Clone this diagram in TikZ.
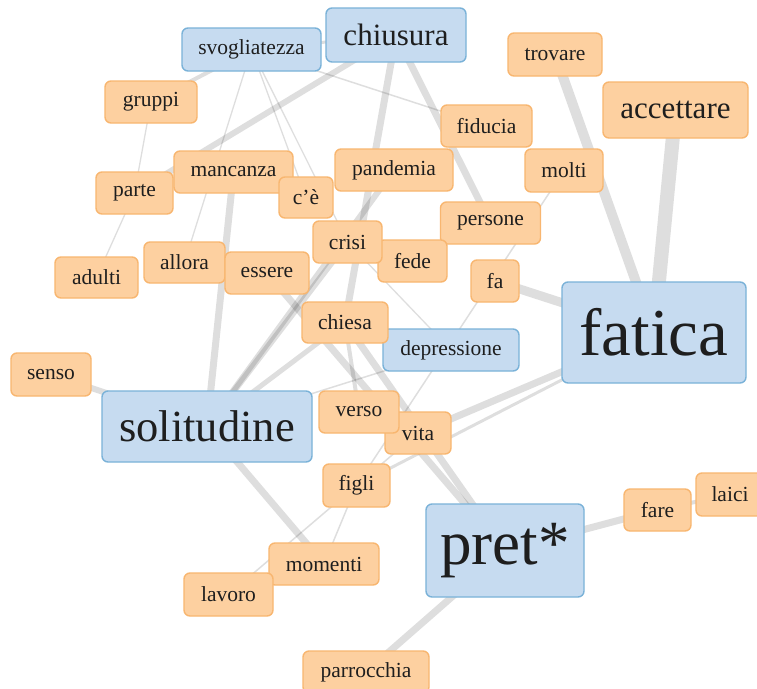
\documentclass[tikz,border=0pt]{standalone}
\usepackage{fontspec}
\setmainfont{Liberation Serif}
\definecolor{ofill}{RGB}{253,208,160}
\definecolor{odraw}{RGB}{248,182,112}
\definecolor{bfill}{RGB}{198,219,240}
\definecolor{bdraw}{RGB}{122,178,216}
\definecolor{txt}{RGB}{30,30,30}
\newcommand{\fsz}{\fontsize{21.5}{24}\selectfont}
\newcommand{\fmz}{\fontsize{31}{34}\selectfont}
\newcommand{\flz}{\fontsize{44.5}{48}\selectfont}
\newcommand{\fxz}{\fontsize{63}{66}\selectfont}
\newcommand{\fxxz}{\fontsize{67}{70}\selectfont}
\tikzset{
  box/.style={rounded corners=6pt, line width=1.4pt, inner sep=0pt, text=txt, align=center},
  ob/.style={box, fill=ofill, draw=odraw},
  bb/.style={box, fill=bfill, draw=bdraw},
  sz/.style 2 args={minimum width=#1pt, minimum height=#2pt},
  edge/.style={draw=black, draw opacity=0.13, line width=#1pt},
  edge/.default=1.3
}
\begin{document}
\begin{tikzpicture}[x=1pt,y=-1pt]
\useasboundingbox (0,0) rectangle (757,688);
\fill[white] (0,0) rectangle (757,688);
\path
  (251.5,49.5) coordinate (svo)
  (396,35) coordinate (chi)
  (555,54.5) coordinate (tro)
  (675.5,110) coordinate (acc)
  (151,102) coordinate (gru)
  (486.5,126) coordinate (fid)
  (233.5,172) coordinate (man)
  (394,170) coordinate (pan)
  (564,170.5) coordinate (mol)
  (134.5,193) coordinate (par)
  (306,197.5) coordinate (ce)
  (490.5,223) coordinate (per)
  (347.5,242) coordinate (cri)
  (412.5,261) coordinate (fed)
  (495,281) coordinate (fa)
  (96.5,277.5) coordinate (adu)
  (184.5,262.5) coordinate (all)
  (267,273) coordinate (ess)
  (654,332.5) coordinate (fat)
  (345,322.5) coordinate (chs)
  (451,350) coordinate (dep)
  (51,374.5) coordinate (sen)
  (207,426.5) coordinate (sol)
  (359,412) coordinate (ver)
  (418,433) coordinate (vit)
  (356.5,485.5) coordinate (fig)
  (657.5,510) coordinate (far)
  (730,494.5) coordinate (lai)
  (505,550.5) coordinate (pre)
  (324,564) coordinate (mom)
  (228.5,594.5) coordinate (lav)
  (366,672) coordinate (prr);
% connectors
\draw[edge=3] (svo) -- (chi);
\draw[edge=4] (svo) -- (gru);
\draw[edge=6] (chi) -- (par);
\draw[edge] (gru) -- (par);
\draw[edge] (par) -- (adu);
\draw[edge] (svo) -- (all);
\draw[edge] (svo) -- (ce);
\draw[edge] (svo) -- (cri);
\draw[edge=1.5] (svo) -- (fid);
\draw[edge=7] (chi) -- (per);
\draw[edge=7] (chi) -- (chs);
\draw[edge=10] (tro) -- (fat);
\draw[edge=14] (acc) -- (fat);
\draw[edge=9] (fa) -- (fat);
\draw[edge=1.5] (mol) -- (fig);
\draw[edge=7] (fat) -- (vit);
\draw[edge=3] (fat) -- (fig);
\draw[edge=7] (man) -- (sol);
\draw[edge=6] (sol) -- (cri);
\draw[edge=6] (sol) -- (pan);
\draw[edge=5] (chs) -- (sol);
\draw[edge=1.5] (dep) -- (sol);
\draw[edge] (cri) -- (dep);
\draw[edge=7] (sol) -- (mom);
\draw[edge=1.5] (lav) -- (vit);
\draw[edge=1.5] (fig) -- (mom);
\draw[edge=6] (sen) -- (sol);
\draw[edge=7] (pre) -- (far);
\draw[edge=4] (far) -- (lai);
\draw[edge=7] (pre) -- (prr);
\draw[edge=7] (ess) -- (pre);
\draw[edge=7] (chs) -- (pre);
\draw[edge=4] (chs) -- (ver);
% boxes
\node[bb, sz={139}{43}, font=\fsz] (nsvo) at (svo) {svogliatezza};
\node[bb, sz={140}{54}, font=\fmz] (nchi) at (chi) {chiusura};
\node[ob, sz={94}{43}, font=\fsz] (ntro) at (tro) {trovare};
\node[ob, sz={145}{56}, font=\fmz] (nacc) at (acc) {accettare};
\node[ob, sz={92}{42}, font=\fsz] (ngru) at (gru) {gruppi};
\node[ob, sz={91}{42}, font=\fsz] (nfid) at (fid) {fiducia};
\node[ob, sz={119}{42}, font=\fsz] (nman) at (man) {mancanza};
\node[ob, sz={118}{42}, font=\fsz] (npan) at (pan) {pandemia};
\node[ob, sz={78}{43}, font=\fsz] (nmol) at (mol) {molti};
\node[ob, sz={77}{42}, font=\fsz] (npar) at (par) {parte};
\node[ob, sz={54}{41}, font=\fsz] (nce) at (ce) {c'è};
\node[ob, sz={100}{42}, font=\fsz] (nper) at (per) {persone};
\node[ob, sz={69}{42}, font=\fsz] (nfed) at (fed) {fede};
\node[ob, sz={69}{42}, font=\fsz] (ncri) at (cri) {crisi};
\node[ob, sz={48}{42}, font=\fsz] (nfa) at (fa) {fa};
\node[ob, sz={83}{41}, font=\fsz] (nadu) at (adu) {adulti};
\node[ob, sz={81}{41}, font=\fsz] (nall) at (all) {allora};
\node[ob, sz={84}{42}, font=\fsz] (ness) at (ess) {essere};
\node[bb, sz={184}{101}, font=\fxxz] (nfat) at (fat) {fatica};
\node[bb, sz={136}{42}, font=\fsz] (ndep) at (dep) {depressione};
\node[ob, sz={86}{41}, font=\fsz] (nchs) at (chs) {chiesa};
\node[ob, sz={80}{43}, font=\fsz] (nsen) at (sen) {senso};
\node[bb, sz={210}{71}, font=\flz] (nsol) at (sol) {solitudine};
\node[ob, sz={66}{42}, font=\fsz] (nvit) at (vit) {vita};
\node[ob, sz={80}{42}, font=\fsz] (nver) at (ver) {verso};
\node[ob, sz={67}{43}, font=\fsz] (nfig) at (fig) {figli};
\node[ob, sz={67}{42}, font=\fsz] (nfar) at (far) {fare};
\node[ob, sz={68}{43}, font=\fsz] (nlai) at (lai) {laici};
\node[bb, sz={158}{93}, font=\fxz] (npre) at (pre) {pret*};
\node[ob, sz={110}{42}, font=\fsz] (nmom) at (mom) {momenti};
\node[ob, sz={89}{43}, font=\fsz] (nlav) at (lav) {lavoro};
\node[ob, sz={126}{42}, font=\fsz] (nprr) at (prr) {parrocchia};
\end{tikzpicture}
\end{document}
